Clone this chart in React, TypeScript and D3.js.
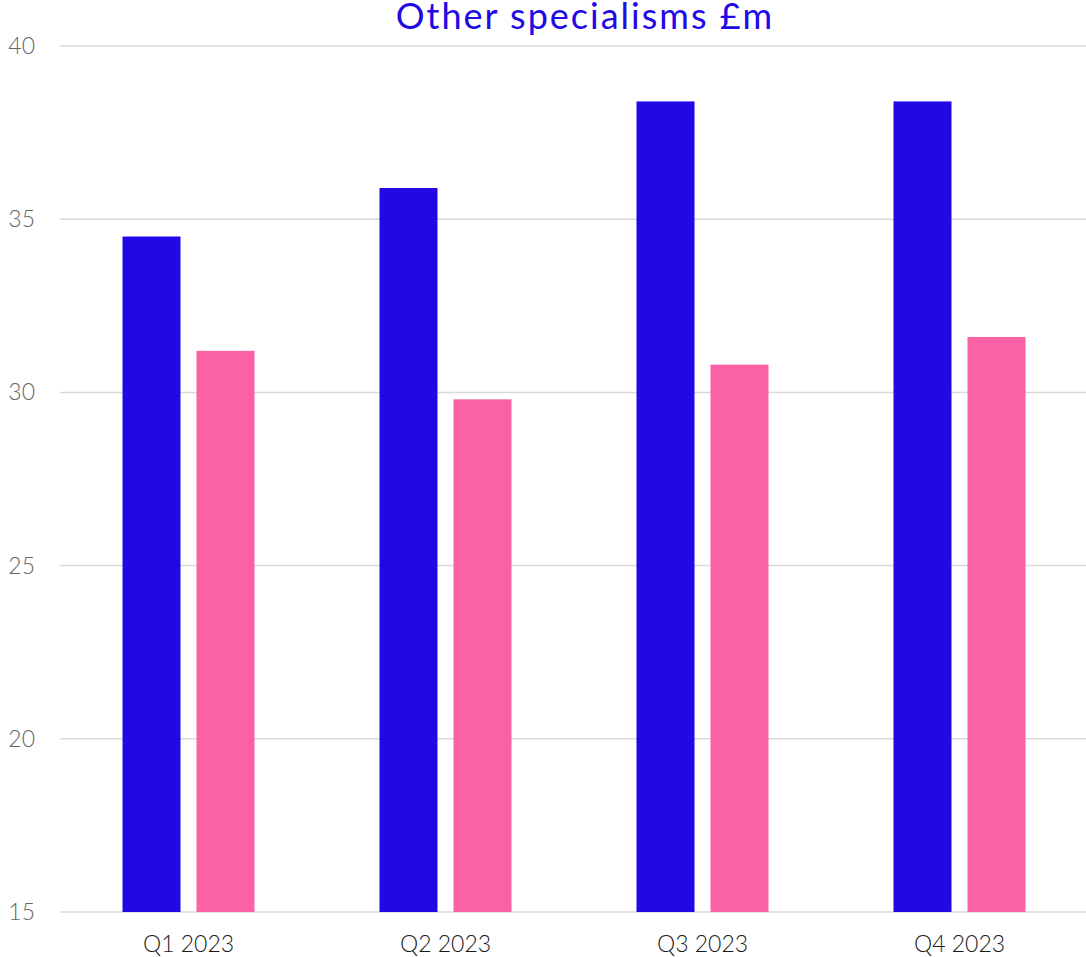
import React, { useEffect, useRef } from "react";
import * as d3 from "d3";

const categories = ["Q1 2023", "Q2 2023", "Q3 2023", "Q4 2023"];
const seriesNames = ["A", "B"];
const seriesA = [34.5, 35.9, 38.4, 38.4];
const seriesB = [31.2, 29.8, 30.8, 31.6];
const yTicks = [15, 20, 25, 30, 35, 40];

const App = () => {
  const svgRef = useRef<SVGSVGElement | null>(null);

  useEffect(() => {
    document.body.style.margin = "0";
    const width = 1086;
    const height = 957;
    const margin = { top: 46, right: -2, bottom: 45, left: 60 };

    const svg = d3.select(svgRef.current).attr("width", width).attr("height", height);
    svg.selectAll("*").remove();

    const data = categories.map((c, i) => ({ cat: c, values: [seriesA[i], seriesB[i]] }));

    const x0 = d3
      .scaleBand()
      .domain(categories)
      .range([margin.left, width - margin.right]);

    const x1 = d3
      .scaleBand()
      .domain(seriesNames)
      .range([0, x0.bandwidth()])
      .paddingInner(0.2162)
      .paddingOuter(0.8446);

    const y = d3
      .scaleLinear()
      .domain([15, 40])
      .range([height - margin.bottom, margin.top]);

    const colors = ["#2109e6", "#fb62a5"];
    const font = "Lato, 'Open Sans', sans-serif";

    // gridlines
    svg.append("g")
      .selectAll("line")
      .data(yTicks)
      .enter()
      .append("line")
      .attr("x1", margin.left)
      .attr("x2", width)
      .attr("y1", (d) => y(d))
      .attr("y2", (d) => y(d))
      .attr("stroke", "#d9d9d9")
      .attr("stroke-width", 1.5);

    // y labels
    svg.append("g")
      .selectAll("text")
      .data(yTicks)
      .enter()
      .append("text")
      .attr("x", 35)
      .attr("y", (d) => y(d))
      .attr("dy", "0.35em")
      .attr("text-anchor", "end")
      .attr("fill", "#666")
      .style("font-family", font)
      .style("font-weight", 300)
      .style("font-size", "23px")
      .text((d) => d);

    // bars
    const groups = svg.append("g")
      .selectAll("g")
      .data(data)
      .enter()
      .append("g")
      .attr("transform", (d) => `translate(${x0(d.cat)},0)`);

    groups.selectAll("rect")
      .data((d) => d.values.map((v, i) => ({ key: seriesNames[i], v, i })))
      .enter()
      .append("rect")
      .attr("x", (d) => x1(d.key)!)
      .attr("y", (d) => y(d.v))
      .attr("width", x1.bandwidth())
      .attr("height", (d) => y(15) - y(d.v))
      .attr("fill", (d) => colors[d.i]);

    // x labels
    svg.append("g")
      .selectAll("text")
      .data(categories)
      .enter()
      .append("text")
      .attr("x", (d) => x0(d)! + x0.bandwidth() / 2)
      .attr("y", 952)
      .attr("text-anchor", "middle")
      .attr("fill", "#1a1a1a")
      .style("font-family", font)
      .style("font-weight", 300)
      .style("font-size", "23px")
      .text((d) => d);

    // title
    svg.append("text")
      .attr("x", 585)
      .attr("y", 29)
      .attr("text-anchor", "middle")
      .attr("fill", "#2109e6")
      .style("font-family", font)
      .style("font-size", "36px")
      .style("letter-spacing", "2px")
      .text("Other specialisms £m");
  }, []);

  return <svg ref={svgRef} style={{ display: "block" }}></svg>;
};

export default App;
